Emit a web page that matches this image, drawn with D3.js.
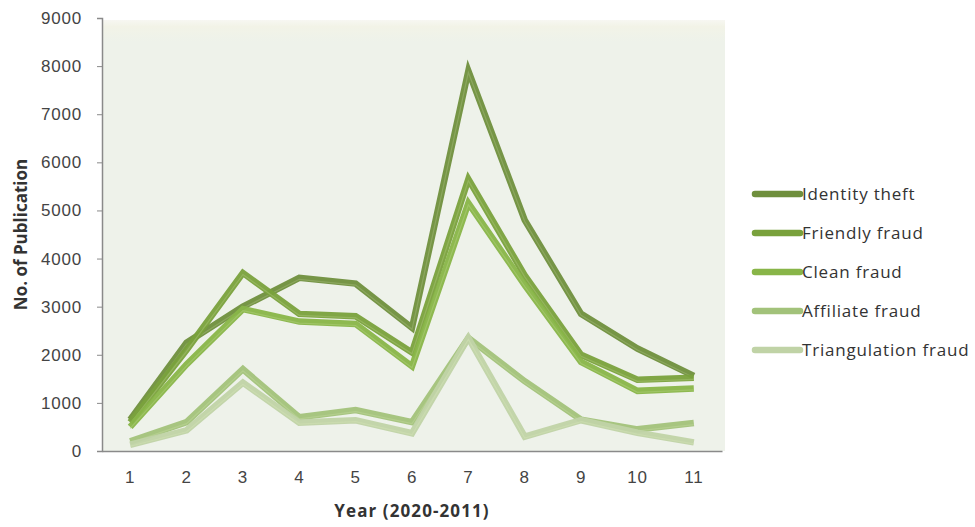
<!DOCTYPE html>
<html>
<head>
<meta charset="utf-8">
<script src="https://cdn.jsdelivr.net/npm/d3@7"></script>
<style>
html,body{margin:0;padding:0;background:#fff;}
svg{display:block;font-family:"Open Sans","Noto Sans",sans-serif;}
</style>
</head>
<body>
<svg id="chart" width="975" height="527"></svg>
<script>
const years = ["1","2","3","4","5","6","7","8","9","10","11"];
const seriesNames = ["Identity theft","Friendly fraud","Clean fraud","Affiliate fraud","Triangulation fraud"];
const identityTheft      = [650, 2250, 3000, 3600, 3480, 2560, 7900, 4800, 2850, 2130, 1560];
const friendlyFraud      = [600, 2100, 3700, 2850, 2800, 2050, 5650, 3650, 2000, 1480, 1520];
const cleanFraud         = [500, 1800, 2950, 2690, 2640, 1760, 5150, 3450, 1850, 1250, 1300];
const affiliateFraud     = [200,  600, 1700,  700,  850,  600, 2350, 1450,  650,  450,  580];
const triangulationFraud = [130,  430, 1420,  590,  640,  370, 2350,  300,  640,  380,  180];
const yTicks = [0,1000,2000,3000,4000,5000,6000,7000,8000,9000];
const colors = ["#6f8f3d","#79a13c","#88b548","#a2c27a","#c0d3a6"];
const allSeries = [identityTheft, friendlyFraud, cleanFraud, affiliateFraud, triangulationFraud];

const svg = d3.select("#chart");
const m = {left:102, right:722, top:18, bottom:451};

const defs = svg.append("defs");
const grad = defs.append("linearGradient").attr("id","bg").attr("x1",0).attr("y1",0).attr("x2",0).attr("y2",1);
grad.append("stop").attr("offset","0%").attr("stop-color","#f7f7f2");
grad.append("stop").attr("offset","1.5%").attr("stop-color","#f2f3e7");
grad.append("stop").attr("offset","5%").attr("stop-color","#eef2ea");
grad.append("stop").attr("offset","100%").attr("stop-color","#eef2ea");

const x = d3.scaleBand().domain(years).range([m.left, m.right]);
const y = d3.scaleLinear().domain([0, 9000]).range([m.bottom, m.top]);

svg.append("rect").attr("x", m.left).attr("y", m.top + 2)
  .attr("width", m.right - m.left + 3).attr("height", m.bottom - m.top - 2)
  .attr("fill", "url(#bg)");

// Y axis
const yAxis = svg.append("g").attr("transform", `translate(${m.left},0)`)
  .call(d3.axisLeft(y).tickValues(yTicks).tickSize(5).tickPadding(15).tickFormat(d3.format("d")));
yAxis.select(".domain").attr("stroke","#8a8a8a").attr("stroke-width",1.5);
yAxis.selectAll(".tick line").attr("stroke","#8a8a8a");
yAxis.selectAll(".tick text").attr("fill","#444").style("font-size","17px").style("letter-spacing","0.8px");

// X axis
const xAxis = svg.append("g").attr("transform", `translate(0,${m.bottom})`)
  .call(d3.axisBottom(x).tickSize(0).tickPadding(20));
xAxis.select(".domain").attr("stroke","#8a8a8a").attr("stroke-width",1.5);
xAxis.selectAll(".tick text").attr("fill","#444").style("font-size","17px").style("letter-spacing","0.8px");

// Axis titles
svg.append("text").attr("x", (m.left + m.right)/2).attr("y", 517)
  .attr("text-anchor","middle").attr("font-weight","bold").attr("fill","#333")
  .style("font-size","17px").style("letter-spacing","1.1px").text("Year (2020-2011)");
svg.append("text").attr("transform", `translate(27,${(m.top+m.bottom)/2}) rotate(-90)`)
  .attr("text-anchor","middle").attr("font-weight","bold").attr("fill","#333")
  .style("font-size","17px").text("No. of Publication");

// Lines
const line = d3.line().x((d,i) => x(years[i]) + x.bandwidth()/2).y(d => y(d));
allSeries.forEach((vals, k) => {
  svg.append("path").datum(vals).attr("d", line)
    .attr("fill","none").attr("stroke", colors[k]).attr("stroke-width", 6.5)
    .attr("stroke-linejoin","miter").attr("stroke-linecap","butt").attr("opacity",0.95);
  svg.append("path").datum(vals).attr("d", line)
    .attr("fill","none").attr("stroke", d3.interpolateRgb(colors[k], "#e8f5c8")(0.35))
    .attr("stroke-width", 1.2).attr("opacity",0.6)
    .attr("transform","translate(0,1.5)");
});

// Legend
const legY = [194, 233, 272, 311, 350];
seriesNames.forEach((name, k) => {
  svg.append("line").attr("x1", 755).attr("x2", 800).attr("y1", legY[k]).attr("y2", legY[k])
    .attr("stroke", colors[k]).attr("stroke-width", 6.5).attr("stroke-linecap","round");
  svg.append("text").attr("x", 802).attr("y", legY[k]).attr("dy","0.35em")
    .attr("fill","#333").style("font-size","17px").style("letter-spacing","0.8px").text(name);
});
</script>
</body>
</html>
